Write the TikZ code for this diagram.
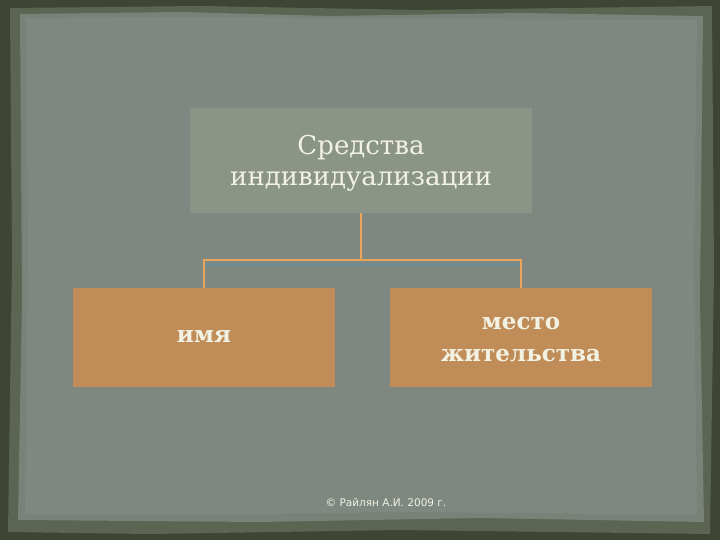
\documentclass[tikz,border=0pt]{standalone}
\usepackage{fontspec}
\setmainfont{DejaVu Serif}
\newfontfamily\footfont{DejaVu Sans}
\definecolor{frameDark}{HTML}{3E4535}
\definecolor{frameMid}{HTML}{5C6452}
\definecolor{paper}{HTML}{7E8780}
\definecolor{topBox}{HTML}{8A9487}
\definecolor{brownBox}{HTML}{C08C57}
\definecolor{lineOr}{HTML}{E8A45A}
\definecolor{lineBlue}{HTML}{6E8A92}
\definecolor{txt}{HTML}{F2F2E4}
\tikzset{
  topstyle/.style={fill=topBox, draw=none, minimum width=342pt, minimum height=105pt, inner sep=0pt},
  brownstyle/.style={fill=brownBox, draw=none, minimum width=262pt, minimum height=99pt, inner sep=0pt},
  label/.style={text=txt, font=\fontsize{26}{31}\selectfont, align=center},
  labelb/.style={text=txt, font=\bfseries\fontsize{23}{32}\selectfont, align=center},
  conn/.style={draw=lineOr, line width=2pt},
  shade/.style={draw=lineBlue, line width=3pt},
}
\begin{document}
\begin{tikzpicture}[x=1pt,y=-1pt]
\useasboundingbox (0,0) rectangle (720,540);
\fill[frameDark] (0,0) rectangle (720,540);
\fill[frameMid] (10,8) -- (200,6) -- (420,10) -- (712,6) -- (714,270) -- (710,534) -- (400,530) -- (150,534) -- (8,532) -- (12,260) -- cycle;
\fill[paper!85!frameMid] (20,14) -- (180,12) -- (330,16) -- (520,13) -- (703,16) -- (700,300) -- (704,522) -- (480,518) -- (260,522) -- (18,520) -- (22,300) -- cycle;
\fill[paper] (26,18) -- (200,17) -- (440,19) -- (697,20) -- (694,260) -- (697,515) -- (420,512) -- (180,515) -- (25,514) -- (28,250) -- cycle;
\node[topstyle] (top) at (361,160.5) {};
\node[label] (toptext) at (361,163) {Средства\\индивидуализации};
\node[brownstyle] (left) at (204,337.5) {};
\node[labelb] (lefttext) at (204,337) {имя};
\node[brownstyle] (right) at (520.5,337.5) {};
\node[labelb] (righttext) at (521,340) {место\\жительства};
\coordinate (mid) at (361,260);
\coordinate (lc) at (204,260);
\coordinate (rc) at (521,260);
\draw[shade] ([yshift=-4.5pt]lc) -- ([yshift=-4.5pt]rc);
\draw[conn] (top.south) -- (mid);
\draw[conn] (lc |- left.north) -- (lc) -- (rc) -- (rc |- right.north);
\node[text=txt, font=\footfont\fontsize{10.5}{12}\selectfont] (foot) at (386,503) {© Райлян А.И. 2009 г.};
\end{tikzpicture}
\end{document}
